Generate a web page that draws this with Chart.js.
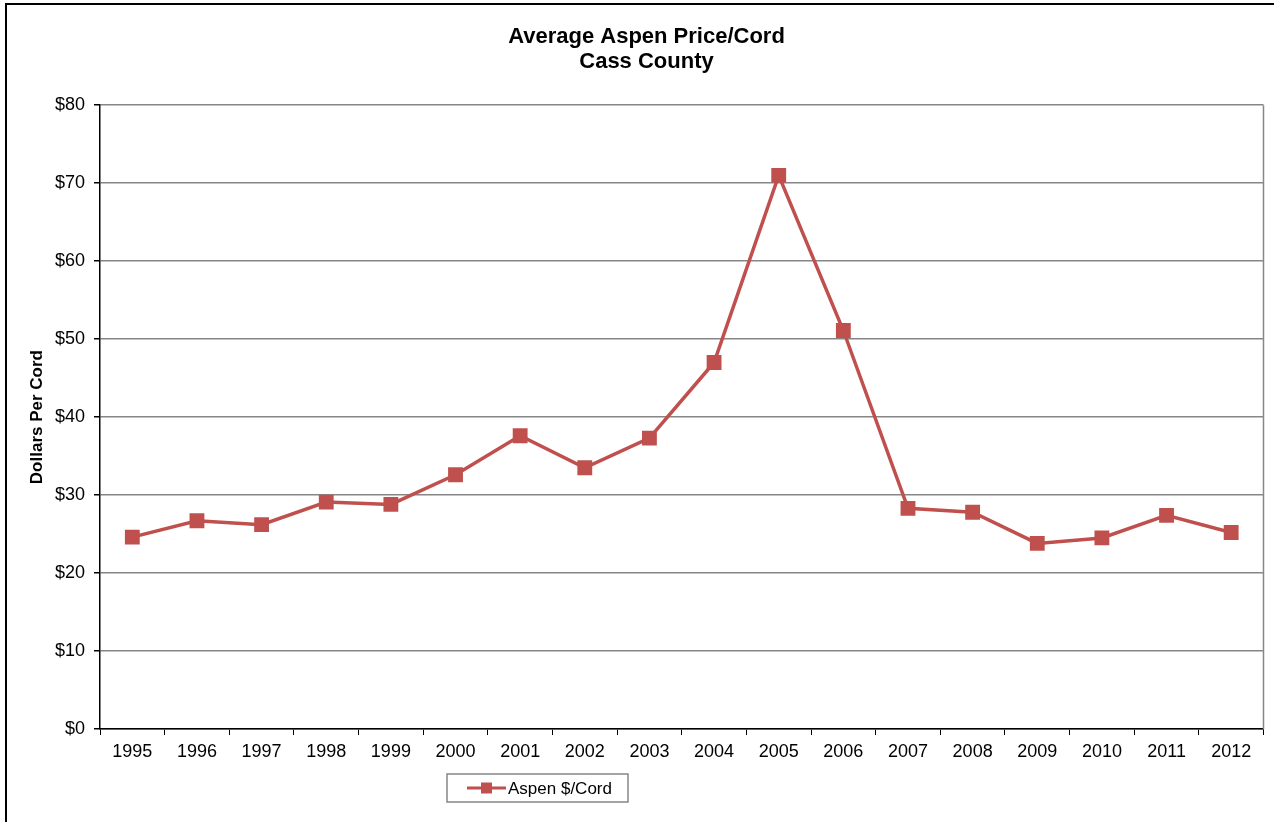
<!DOCTYPE html>
<html>
<head>
<meta charset="utf-8">
<title>Average Aspen Price/Cord - Cass County</title>
<script src="https://cdn.jsdelivr.net/npm/chart.js@4/dist/chart.umd.min.js"></script>
<style>
  html, body { margin: 0; padding: 0; background: #fff; }
  #wrap { width: 1274px; height: 822px; position: relative; }
</style>
</head>
<body>
<div id="wrap"><canvas id="priceChart"></canvas></div>
<script>
// ---------------- Data ----------------
const years = ["1995", "1996", "1997", "1998", "1999", "2000", "2001", "2002", "2003",
               "2004", "2005", "2006", "2007", "2008", "2009", "2010", "2011", "2012"];
const aspenPrice = [24.6, 26.7, 26.2, 29.1, 28.8, 32.6, 37.6, 33.5, 37.3,
                    47.0, 71.0, 51.1, 28.3, 27.8, 23.8, 24.5, 27.4, 25.2];
const yTicks = [0, 10, 20, 30, 40, 50, 60, 70, 80];

const seriesColor = "#C0504D";
const gridGrey = "#868686";
const fontFamily = "'Liberation Sans', Arial, sans-serif";

// ---------------- Frame + plot right edge ----------------
const framePlugin = {
  id: "frame",
  beforeDraw(chart) {
    const c = chart.ctx;
    c.save();
    c.fillStyle = "#fff";
    c.fillRect(0, 0, chart.width, chart.height);
    c.strokeStyle = "#000";
    c.lineWidth = 2;
    c.strokeRect(6, 4, chart.width + 20, chart.height + 20);
    c.restore();
  },
  afterDatasetsDraw(chart) {
    const a = chart.chartArea;
    const c = chart.ctx;
    c.save();
    c.strokeStyle = gridGrey;
    c.lineWidth = 1.5;
    c.beginPath();
    c.moveTo(a.right, a.top);
    c.lineTo(a.right, a.bottom);
    c.stroke();
    c.restore();
  }
};

// ---------------- Boxed legend (placed like the original) ----------------
const boxLegend = {
  id: "boxLegend",
  afterDraw(chart) {
    const c = chart.ctx;
    const ds = chart.data.datasets[0];
    const x = 447, y = 774, w = 181, h = 28;
    c.save();
    c.strokeStyle = gridGrey;
    c.lineWidth = 1.5;
    c.strokeRect(x, y, w, h);
    const cy = y + h / 2;
    c.strokeStyle = ds.borderColor;
    c.lineWidth = 3;
    c.beginPath();
    c.moveTo(x + 20, cy);
    c.lineTo(x + 59, cy);
    c.stroke();
    c.fillStyle = ds.pointBackgroundColor;
    c.fillRect(x + 34, cy - 5.5, 11, 11);
    c.fillStyle = "#000";
    c.font = "17px " + fontFamily;
    c.textBaseline = "middle";
    c.fillText(ds.label, x + 61, cy + 1);
    c.restore();
  }
};

// ---------------- Chart ----------------
const ctx = document.getElementById("priceChart").getContext("2d");
const priceChart = new Chart(ctx, {
  type: "line",
  data: {
    labels: years,
    datasets: [{
      label: "Aspen $/Cord",
      data: aspenPrice,
      borderColor: seriesColor,
      backgroundColor: seriesColor,
      pointBackgroundColor: seriesColor,
      pointBorderColor: seriesColor,
      borderWidth: 3.5,
      pointStyle: "rect",
      pointRadius: 10.5,
      pointBorderWidth: 0,
      tension: 0,
      fill: false
    }]
  },
  options: {
    responsive: true,
    maintainAspectRatio: false,
    animation: false,
    layout: { padding: { left: 22, right: 3, top: 0, bottom: 0 } },
    plugins: {
      legend: { display: false },
      tooltip: { enabled: false },
      title: {
        display: true,
        text: ["Average Aspen Price/Cord", "Cass County"],
        color: "#000",
        font: { family: fontFamily, size: 22, weight: "bold", lineHeight: 1.14 },
        padding: { top: 24, bottom: 31 }
      }
    },
    scales: {
      x: {
        offset: true,
        grid: {
          display: true,
          offset: true,
          drawOnChartArea: false,
          drawTicks: true,
          tickLength: 6,
          tickColor: "#000"
        },
        border: { color: "#000", width: 1.5 },
        ticks: {
          color: "#000",
          font: { family: fontFamily, size: 18 },
          padding: 6,
          maxRotation: 0,
          autoSkip: false
        },
        afterFit(scale) { scale.height = 93; }
      },
      y: {
        min: 0,
        max: 80,
        afterBuildTicks(scale) { scale.ticks = yTicks.map(v => ({ value: v })); },
        grid: {
          color: gridGrey,
          lineWidth: 1.5,
          drawTicks: true,
          tickLength: 6,
          tickColor: "#000"
        },
        border: { color: "#000", width: 1.5 },
        ticks: {
          color: "#000",
          font: { family: fontFamily, size: 18 },
          padding: 9,
          callback: v => "$" + v
        },
        title: {
          display: true,
          text: "Dollars Per Cord",
          color: "#000",
          font: { family: fontFamily, size: 17, weight: "bold" },
          padding: { top: 5, bottom: 10 }
        },
        afterFit(scale) { scale.width = 78; }
      }
    }
  },
  plugins: [framePlugin, boxLegend]
});
</script>
</body>
</html>
